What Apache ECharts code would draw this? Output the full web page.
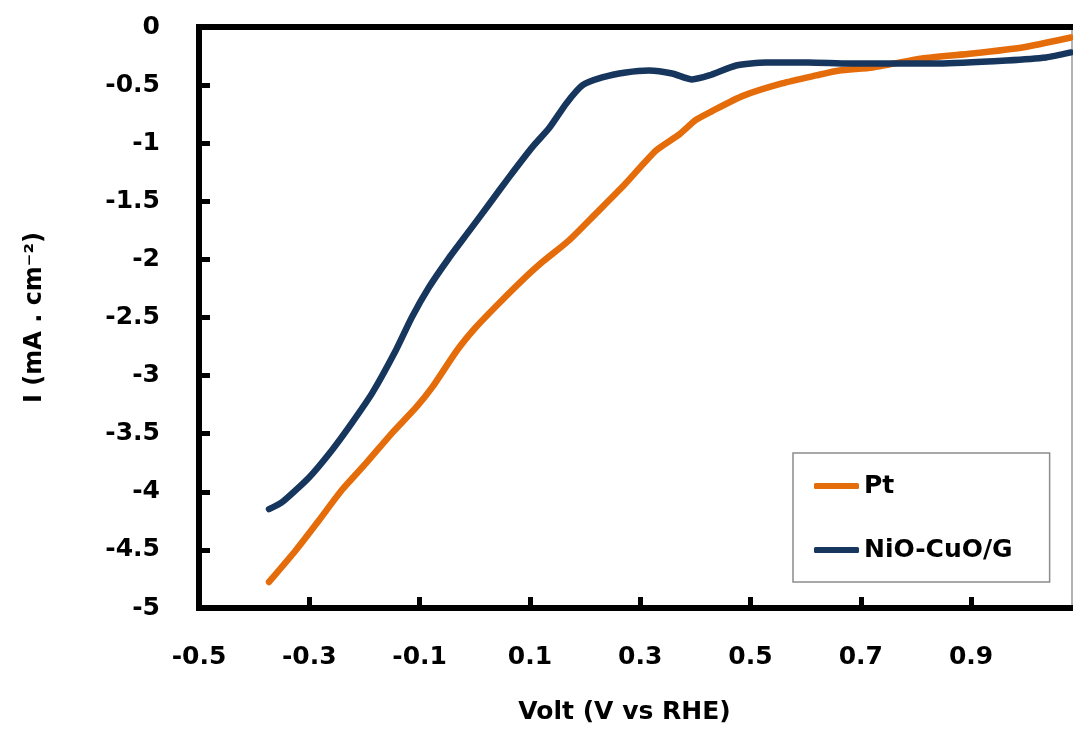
<!DOCTYPE html>
<html>
<head>
<meta charset="utf-8">
<script src="https://cdn.jsdelivr.net/npm/echarts@6/dist/echarts.min.js"></script>
<style>html,body{margin:0;padding:0;background:#fff}#c{width:1073px;height:730px}</style>
</head>
<body>
<div id="c"></div>
<script>
const xTicks = [-0.5, -0.3, -0.1, 0.1, 0.3, 0.5, 0.7, 0.9];
const seriesNames = ['Pt', 'NiO-CuO/G'];
const ptX = [-0.373, -0.324, -0.282, -0.241, -0.197, -0.150, -0.106, -0.077, -0.032, 0.002, 0.044, 0.086, 0.122, 0.171, 0.220, 0.267, 0.329, 0.371, 0.401, 0.430, 0.485, 0.557, 0.619, 0.661, 0.721, 0.811, 0.902, 0.993, 1.081];
const ptY = [-4.776, -4.501, -4.243, -3.985, -3.753, -3.495, -3.272, -3.100, -2.782, -2.584, -2.377, -2.180, -2.025, -1.836, -1.604, -1.380, -1.062, -0.924, -0.800, -0.725, -0.595, -0.486, -0.417, -0.374, -0.348, -0.271, -0.228, -0.176, -0.090];
const nioX = [-0.373, -0.349, -0.300, -0.259, -0.223, -0.186, -0.143, -0.114, -0.083, -0.047, -0.010, 0.026, 0.062, 0.104, 0.135, 0.166, 0.195, 0.231, 0.274, 0.316, 0.358, 0.394, 0.425, 0.474, 0.528, 0.606, 0.679, 0.842, 0.964, 1.036, 1.081];
const nioY = [-4.149, -4.088, -3.874, -3.642, -3.409, -3.151, -2.782, -2.498, -2.240, -1.990, -1.755, -1.525, -1.294, -1.036, -0.870, -0.658, -0.503, -0.434, -0.391, -0.374, -0.400, -0.451, -0.417, -0.331, -0.305, -0.305, -0.314, -0.314, -0.288, -0.262, -0.219];

const pt = ptX.map((x, i) => [x, ptY[i]]);
const nio = nioX.map((x, i) => [x, nioY[i]]);

const FONT = 'DejaVu Sans';
const XMIN = -0.5, XMAX = 1.083;

const chart = echarts.init(document.getElementById('c'), null, {renderer: 'canvas'});
chart.setOption({
  animation: false,
  backgroundColor: '#fff',
  grid: {left: 199, top: 27, width: 873, height: 581},
  legend: {
    data: seriesNames,
    orient: 'vertical',
    left: 793, top: 453,
    padding: [20, 37, 19, 21],
    itemGap: 38,
    itemWidth: 45, itemHeight: 6,
    icon: 'roundRect',
    borderColor: '#8c8c8c', borderWidth: 1.5, borderRadius: 0,
    textStyle: {fontFamily: FONT, fontWeight: 'bold', fontSize: 25, color: '#000', lineHeight: 26}
  },
  xAxis: [{
    type: 'value', min: XMIN, max: XMAX, interval: 0.2,
    name: 'Volt (V vs RHE)', nameLocation: 'middle', nameGap: 92,
    nameTextStyle: {fontFamily: FONT, fontWeight: 'bold', fontSize: 25, color: '#000', padding: [0, 22, 0, 0]},
    axisLine: {show: true, onZero: false, lineStyle: {color: '#000', width: 6, cap: 'square'}},
    axisTick: {show: true, inside: true, length: 11, lineStyle: {color: '#000', width: 5}, customValues: xTicks},
    axisLabel: {show: true, margin: 37, fontFamily: FONT, fontWeight: 'bold', fontSize: 25, color: '#000', customValues: xTicks},
    splitLine: {show: false}
  }, {
    type: 'value', min: XMIN, max: XMAX, position: 'top',
    axisLine: {show: true, onZero: false, lineStyle: {color: '#000', width: 6, cap: 'square'}},
    axisTick: {show: false}, axisLabel: {show: false}, splitLine: {show: false}
  }],
  yAxis: [{
    type: 'value', min: -5, max: 0, interval: 0.5,
    name: 'I (mA . cm⁻²)', nameLocation: 'middle', nameGap: 152, nameRotate: 90,
    nameTextStyle: {fontFamily: FONT, fontWeight: 'bold', fontSize: 24, color: '#000'},
    axisLine: {show: true, onZero: false, lineStyle: {color: '#000', width: 6, cap: 'square'}},
    axisTick: {show: true, inside: true, length: 11, lineStyle: {color: '#000', width: 5}},
    axisLabel: {show: true, margin: 39, fontFamily: FONT, fontWeight: 'bold', fontSize: 25, color: '#000'},
    splitLine: {show: false}
  }, {
    type: 'value', min: -5, max: 0, position: 'right',
    axisLine: {show: true, onZero: false, lineStyle: {color: '#9a9a9a', width: 1.5}},
    axisTick: {show: false}, axisLabel: {show: false}, splitLine: {show: false}
  }],
  series: [{
    name: seriesNames[0], type: 'line', data: pt, showSymbol: false, symbol: 'none',
    smooth: 0.2, clip: true,
    itemStyle: {color: '#E46C0A'}, lineStyle: {color: '#E46C0A', width: 6.5, cap: 'round', join: 'round'}
  }, {
    name: seriesNames[1], type: 'line', data: nio, showSymbol: false, symbol: 'none',
    smooth: 0.2, clip: true,
    itemStyle: {color: '#17365D'}, lineStyle: {color: '#17365D', width: 6.5, cap: 'round', join: 'round'}
  }]
});
</script>
</body>
</html>
